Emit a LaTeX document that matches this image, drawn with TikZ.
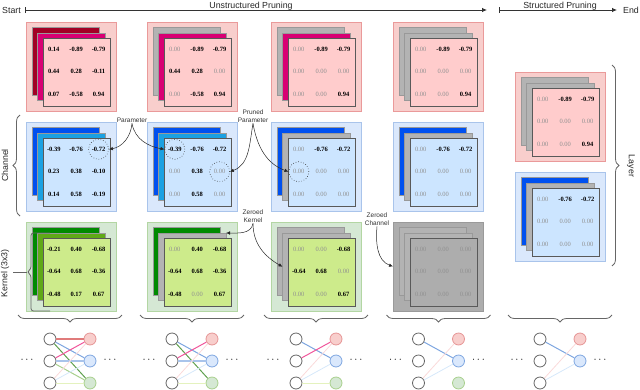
\documentclass[tikz,border=0pt]{standalone}
\usepackage{fontspec}
\setmainfont{Liberation Sans}
\newfontfamily\numfont{Liberation Serif}
\usepackage{tikz}
\usetikzlibrary{positioning,arrows.meta,calc,decorations.pathreplacing}

% panel colours
\definecolor{redbg}{HTML}{F8CECC}   \definecolor{redln}{HTML}{EA9A9A}   \definecolor{redfr}{HTML}{FFCCCC}
\definecolor{bluebg}{HTML}{DAE8FC}  \definecolor{blueln}{HTML}{A9C4EB}  \definecolor{bluefr}{HTML}{CCE5FF}
\definecolor{greenbg}{HTML}{D5E8D4} \definecolor{greenln}{HTML}{B3D6A3} \definecolor{greenfr}{HTML}{CDEB8B}
\definecolor{graybg}{HTML}{ADADAD}  \definecolor{grayln}{HTML}{9A9A9A}  \definecolor{grayfr}{HTML}{ADADAD}
\definecolor{dkred}{HTML}{A20025}   \definecolor{mgnta}{HTML}{D80073}
\definecolor{dkblue}{HTML}{0050EF}  \definecolor{ltblue}{HTML}{1BA1E2}
\definecolor{dkgreen}{HTML}{008A00} \definecolor{ltgreen}{HTML}{60A917}
\definecolor{zeroed}{HTML}{B3B3B3}  \definecolor{zerotxt}{HTML}{909090}
% network edge colours
\definecolor{ered}{HTML}{E07B7B}  \definecolor{eblue}{HTML}{7EA6E0} \definecolor{egreen}{HTML}{5FA04E}
\definecolor{emag}{HTML}{F0569B}  \definecolor{eltb}{HTML}{A9C4EB}  \definecolor{eltg}{HTML}{A8D08D}
\definecolor{fred}{HTML}{FADADA}  \definecolor{fblue}{HTML}{D6E8FA} \definecolor{fgreen}{HTML}{E4F2BE}

\begin{document}
\begin{tikzpicture}[x=1pt, y=1pt,
  hdr/.style={font=\fontsize{8.8}{10}\selectfont, text=black!85, inner sep=0pt},
  lbl/.style={font=\fontsize{6.5}{7.8}\selectfont, text=black!80, align=center, inner sep=1pt},
  panel/.style={rectangle, line width=0.8pt, minimum width=90pt, minimum height=89pt, inner sep=0pt, outer sep=0pt},
  layer/.style={rectangle, draw=black!40, line width=0.4pt, minimum size=67.5pt, inner sep=0pt, outer sep=0pt},
  front/.style={draw=black!65, line width=0.6pt},
  num/.style={font=\numfont\fontsize{6.5}{7}\selectfont, inner sep=0pt},
  dotcirc/.style={circle, draw=black!80, dotted, line width=0.6pt, minimum size=20pt, inner sep=0pt},
  arr/.style={-{Latex[length=4pt,width=3.5pt]}, draw=black!85, line width=0.5pt},
  tl/.style={{Bar[width=6pt]}-{Latex[length=5pt,width=4.5pt]}, draw=black!80, line width=0.8pt},
  brc/.style={decorate, decoration={brace, amplitude=7pt}, draw=black!60, line width=0.8pt},
  inp/.style={circle, draw=black!60, fill=white, line width=0.8pt, minimum size=12pt, inner sep=0pt},
  outp/.style={circle, line width=0.8pt, minimum size=12pt, inner sep=0pt},
  dots/.style={font=\fontsize{11}{12}\selectfont, inner sep=0pt}]
\useasboundingbox (0,0) rectangle (640,-389);

% timeline
\node[hdr] (start) at (11.5,-10) {Start};
\coordinate (u0) at (25,-10); \coordinate (u1) at (487,-10);
\coordinate (s0) at (499,-10); \coordinate (s1) at (617,-10);
\draw[tl] (u0) -- (u1);
\draw[tl] (s0) -- (s1);
\node[hdr, anchor=base] (unst) at (251,-8.3) {Unstructured Pruning};
\node[hdr, anchor=base] (stru) at (560,-8.3) {Structured Pruning};
\node[hdr] (end) at (631,-10) {End};

% weight panels
\foreach \n/\x/\y/\sch/\bk/\md/\vals in {
  p1r/26/-22/red/dkred/mgnta/{0.14,-0.89,-0.79,0.44,0.28,-0.11,0.07,-0.58,0.94},
  p2r/147/-22/red/zeroed/mgnta/{0.00,-0.89,-0.79,0.44,0.28,0.00,0.00,-0.58,0.94},
  p3r/271/-22/red/zeroed/mgnta/{0.00,-0.89,-0.79,0.00,0.00,0.00,0.00,0.00,0.94},
  p4r/393/-22/red/zeroed/zeroed/{0.00,-0.89,-0.79,0.00,0.00,0.00,0.00,0.00,0.94},
  p5r/515/-72/red/zeroed/zeroed/{0.00,-0.89,-0.79,0.00,0.00,0.00,0.00,0.00,0.94},
  p1b/26/-122/blue/dkblue/ltblue/{-0.39,-0.76,-0.72,0.23,0.38,-0.10,0.14,0.58,-0.19},
  p2b/147/-122/blue/dkblue/ltblue/{-0.39,-0.76,-0.72,0.00,0.38,0.00,0.00,0.58,0.00},
  p3b/271/-122/blue/dkblue/zeroed/{0.00,-0.76,-0.72,0.00,0.00,0.00,0.00,0.00,0.00},
  p4b/393/-122/blue/dkblue/zeroed/{0.00,-0.76,-0.72,0.00,0.00,0.00,0.00,0.00,0.00},
  p5b/515/-172/blue/dkblue/zeroed/{0.00,-0.76,-0.72,0.00,0.00,0.00,0.00,0.00,0.00},
  p1g/26/-222/green/dkgreen/ltgreen/{-0.21,0.40,-0.68,-0.64,0.68,-0.36,-0.48,0.17,0.67},
  p2g/147/-222/green/dkgreen/zeroed/{0.00,0.40,-0.68,-0.64,0.68,-0.36,-0.48,0.00,0.67},
  p3g/271/-222/green/zeroed/zeroed/{0.00,0.00,-0.68,-0.64,0.68,0.00,0.00,0.00,0.67},
  p4g/393/-222/gray/zeroed/zeroed/{0.00,0.00,0.00,0.00,0.00,0.00,0.00,0.00,0.00}}{
  \node[panel, fill=\sch bg, draw=\sch ln, anchor=north west] (\n-box) at (\x,\y) {};
  \node[layer, fill=\bk, below right=5.5pt and 6pt of \n-box.north west] (\n-bk) {};
  \node[layer, fill=\md, below right=11pt and 11.5pt of \n-box.north west] (\n-md) {};
  \node[layer, front, fill=\sch fr, below right=16.5pt and 17pt of \n-box.north west] (\n-fr) {};
  \foreach \v [count=\i from 0] in \vals {
    \pgfmathtruncatemacro\r{\i/3}
    \pgfmathtruncatemacro\c{\i-3*\r}
    \node[num] (\n-\i) at ($(\n-fr.north west)+(10.8+22.4*\c,-10.8-22.4*\r)$)
      {\ifdim\v pt=0pt\relax\color{zerotxt}\else\bfseries\fi\v};
  }
}

% marked parameters
\node[dotcirc] (m1) at (p1b-2) {};
\node[dotcirc] (m2) at (p2b-0) {};
\node[dotcirc] (m3) at (p2b-5) {};
\node[dotcirc] (m4) at (p3b-3) {};

% callouts
\node[lbl] (param) at (132,-120) {Parameter};
\node[lbl] (pruned) at (253,-116) {Pruned\\Parameter};
\node[lbl] (zkern) at (253,-216) {Zeroed\\Kernel};
\node[lbl] (zchan) at (377,-219) {Zeroed\\Channel};
\draw[arr] (param.south) to[out=-95, in=10] (m1.east);
\draw[arr] (param.south) to[out=-80, in=170] (m2.west);
\draw[arr] (pruned.south) to[out=-100, in=20] (m3.east);
\draw[arr] (pruned.south) to[out=-80, in=160] (m4.west);
\draw[arr] (zkern.south) to[out=-100, in=0] (p2g-md.north east);
\draw[arr] (zkern.south) to[out=-90, in=150] (p3g-md.west);
\draw[arr] (zchan.south) to[out=-95, in=160] (p4g-box.west);

% side braces
\node[hdr, rotate=90] (chan) at (5,-165.5) {Channel};
\draw[brc] (20,-216) -- (20,-115);
\node[hdr, rotate=90] (kern) at (5,-273.5) {Kernel (3x3)};
\draw[draw=black!60, line width=0.8pt, rounded corners=2.5pt]
  (50,-233) -- (31,-233) -- (31,-269) -- (27,-272) -- (31,-275) -- (31,-311) -- (50,-311);
\draw[draw=black!60, line width=0.8pt] (27,-272) -- (13,-272);
\node[hdr, rotate=-90] (layer) at (631,-166) {Layer};
\draw[brc] (612,-65) -- (612,-266);

% networks under each column
\foreach \k/\cx in {1/70,2/192,3/316,4/438.5,5/560} {
  \draw[brc] (\cx+52,-315) -- (\cx-52,-315);
  \foreach \j/\yy in {1/-339,2/-361,3/-383}
    \node[inp] (n\k-l\j) at (\cx-20,\yy) {};
  \node[outp, fill=redbg, draw=ered!80] (n\k-r1) at (\cx+20,-339) {};
  \node[outp, fill=bluebg, draw=eblue] (n\k-r2) at (\cx+20,-361) {};
  \ifnum\k<5 \node[outp, fill=greenbg, draw=eltg] (n\k-r3) at (\cx+20,-383) {};\fi
  \node[dots] (n\k-dl) at (\cx-43,-360) {$\cdots$};
  \node[dots] (n\k-dr) at (\cx+40,-360) {$\cdots$};
}
\foreach \k/\a/\b/\clr/\w in {
  1/1/1/ered/1.2, 1/1/2/eblue/1, 1/1/3/egreen/1, 1/2/1/emag/1, 1/2/2/eltb/1.8,
  1/2/3/eltg/1, 1/3/1/fred/0.8, 1/3/2/fblue/0.8, 1/3/3/fgreen/0.8,
  2/1/2/eblue/1, 2/1/3/egreen/1, 2/2/1/emag/1, 2/2/2/eltb/1.8,
  2/3/1/fred/0.8, 2/3/2/fblue/0.8, 2/3/3/fgreen/0.8,
  3/1/2/eblue/1, 3/2/1/emag/1, 3/3/1/fred/0.8, 3/3/2/fblue/0.8, 3/3/3/fgreen/0.8,
  4/1/2/eblue/1, 4/3/1/fred/0.8, 4/3/2/fblue/0.8,
  5/1/2/eblue/1, 5/3/1/fred/0.8, 5/3/2/fblue/0.8}
  \draw[draw=\clr, line width=\w pt] (n\k-l\a) -- (n\k-r\b);
\end{tikzpicture}
\end{document}
